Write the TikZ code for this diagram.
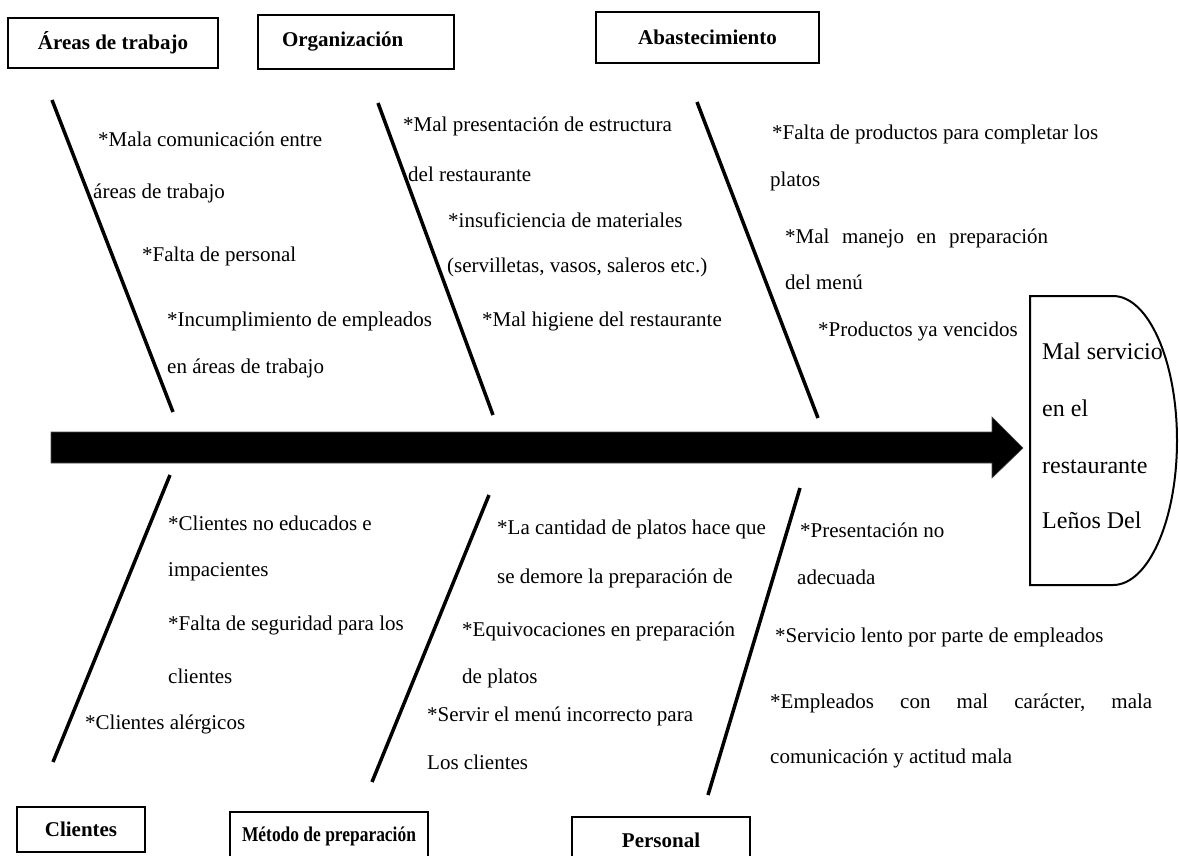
\documentclass[tikz,border=0pt]{standalone}
\usepackage{fontspec}
\setmainfont{Liberation Serif}
\begin{document}
\begin{tikzpicture}[x=1pt,y=-1pt,
  txt/.style={anchor=base west, inner sep=0pt, font=\fontsize{21}{25}\selectfont},
  headtxt/.style={anchor=base west, inner sep=0pt, font=\fontsize{24}{28}\selectfont},
  lbl/.style={draw, line width=2pt, inner sep=0pt, font=\fontsize{21}{25}\selectfont\bfseries},
  bone/.style={line width=3.5pt}]
\useasboundingbox (0,0) rectangle (1179,855);
% category boxes
\node[lbl, minimum width=210, minimum height=50] (areas) at (113,43) {Áreas de trabajo};
\node[lbl, minimum width=196, minimum height=54] (org) at (356,42) {\makebox[196pt][l]{\hspace{24pt}Organización}};
\node[lbl, minimum width=223, minimum height=51] (abas) at (707.5,37.5) {Abastecimiento};
\node[lbl, minimum width=128, minimum height=45] (cli) at (81,829.5) {Clientes};
\node[lbl, minimum width=198, minimum height=48] (met) at (329,836) {\scalebox{0.83}[1]{Método de preparación}};
\node[lbl, minimum width=178, minimum height=46] (per) at (661,840) {Personal};
% spine arrow
\fill[draw=black!70, line width=0.6pt] (51,432) -- (992,432) -- (992,417) -- (1023,448)
  -- (992,478) -- (992,463) -- (51,463) -- cycle;
% head
\draw[line width=2pt] (1030,296) -- (1113,296)
  arc[start angle=-90, end angle=90, x radius=64, y radius=144.5] -- (1030,585) -- cycle;
\node[headtxt] (h1) at (1042,359) {Mal servicio};
\node[headtxt] (h2) at (1042,416) {en el};
\node[headtxt] (h3) at (1042,473) {restaurante};
\node[headtxt] (h4) at (1042,528) {Leños Del};
% bones
\coordinate (b1s) at (52,100);  \coordinate (b1e) at (173,412);
\coordinate (b2s) at (378,103); \coordinate (b2e) at (493,415);
\coordinate (b3s) at (697,102); \coordinate (b3e) at (818,418);
\coordinate (b4s) at (170,475); \coordinate (b4e) at (53,762);
\coordinate (b5s) at (489,495); \coordinate (b5e) at (372,782);
\coordinate (b6s) at (800,488); \coordinate (b6e) at (708,795);
\draw[bone] (b1s) -- (b1e);
\draw[bone] (b2s) -- (b2e);
\draw[bone] (b3s) -- (b3e);
\draw[bone] (b4s) -- (b4e);
\draw[bone] (b5s) -- (b5e);
\draw[bone] (b6s) -- (b6e);
% group 1
\node[txt] (t11) at (98,146) {*Mala comunicación entre};
\node[txt] (t12) at (93,198) {áreas de trabajo};
\node[txt] (t13) at (142,261) {*Falta de personal};
\node[txt] (t14) at (167,326) {*Incumplimiento de empleados};
\node[txt] (t15) at (167,373) {en áreas de trabajo};
% group 2
\node[txt] (t21) at (403,131) {*Mal presentación de estructura};
\node[txt] (t22) at (408,181) {del restaurante};
\node[txt] (t23) at (448,227) {*insuficiencia de materiales};
\node[txt] (t24) at (447,272) {(servilletas, vasos, saleros etc.)};
\node[txt] (t25) at (482,326) {*Mal higiene del restaurante};
% group 3
\node[txt] (t31) at (772,139) {*Falta de productos para completar los};
\node[txt] (t32) at (770,186) {platos};
\node[txt] (t33) at (785,243) {\hbox to 263pt{*Mal\hfill manejo\hfill en\hfill preparación}};
\node[txt] (t34) at (785,289) {del menú};
\node[txt] (t35) at (818,336) {*Productos ya vencidos};
% group 4
\node[txt] (t41) at (168,530) {*Clientes no educados e};
\node[txt] (t42) at (168,576) {impacientes};
\node[txt] (t43) at (168,630) {*Falta de seguridad para los};
\node[txt] (t44) at (168,683) {clientes};
\node[txt] (t45) at (85,729) {*Clientes alérgicos};
% group 5
\node[txt] (t51) at (497,534) {*La cantidad de platos hace que};
\node[txt] (t52) at (497,583) {se demore la preparación de};
\node[txt] (t53) at (462,636) {*Equivocaciones en preparación};
\node[txt] (t54) at (462,683) {de platos};
\node[txt] (t55) at (427,721) {*Servir el menú incorrecto para};
\node[txt] (t56) at (427,769) {Los clientes};
% group 6
\node[txt] (t61) at (800,537) {*Presentación no};
\node[txt] (t62) at (797,584) {adecuada};
\node[txt] (t63) at (775,642) {*Servicio lento por parte de empleados};
\node[txt] (t64) at (770,708) {\hbox to 382pt{*Empleados\hfill con\hfill mal\hfill carácter,\hfill mala}};
\node[txt] (t65) at (770,763) {comunicación y actitud mala};
\end{tikzpicture}
\end{document}
